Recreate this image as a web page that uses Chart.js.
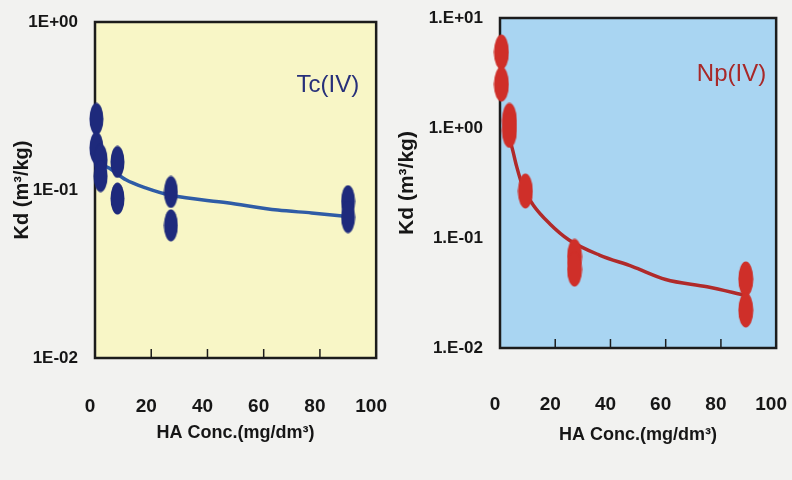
<!DOCTYPE html>
<html><head><meta charset="utf-8">
<script src="https://cdn.jsdelivr.net/npm/chart.js@4.4.0/dist/chart.umd.min.js"></script>
<style>
html,body{margin:0;padding:0;background:#f2f2f0;}
#wrap{position:relative;width:792px;height:480px;overflow:hidden;background:#f2f2f0;}
#c1{position:absolute;left:0;top:0;}
#c2{position:absolute;left:392px;top:0;}
</style></head><body>
<div id="wrap"><canvas id="c1" width="392" height="480"></canvas><canvas id="c2" width="400" height="480"></canvas></div>
<script>
// ---- data ----
const xTickValues = [0, 20, 40, 60, 80, 100];
const tcYTickLabels = ['1E-02', '1E-01', '1E+00'];
const npYTickLabels = ['1.E-02', '1.E-01', '1.E+00', '1.E+01'];

const tcX  = [0.5, 0.5, 2, 2, 8, 8, 27, 27, 90, 90];
const tcKd = [0.265, 0.178, 0.151, 0.121, 0.147, 0.089, 0.0973, 0.0616, 0.0858, 0.069];
const tcFitX  = [3, 5, 11, 18, 27, 47, 65, 77, 88];
const tcFitKd = [0.14, 0.135, 0.115, 0.103, 0.093, 0.084, 0.076, 0.073, 0.070];

const npX  = [0.5, 0.5, 3.4, 3.4, 9.2, 27, 27, 89, 89];
const npKd = [4.9, 2.5, 1.17, 0.95, 0.267, 0.068, 0.052, 0.0424, 0.0221];
const npFitX  = [2.5, 4.3, 6, 8.3, 12, 18, 25, 36, 48, 60, 75, 89];
const npFitKd = [0.9, 0.67, 0.45, 0.29, 0.2, 0.135, 0.096, 0.07, 0.055, 0.042, 0.036, 0.030];

const FONT = "'Liberation Sans', Arial, sans-serif";

function ellipse(color, w, h) {
  const c = document.createElement('canvas');
  c.width = w; c.height = h;
  const g = c.getContext('2d');
  g.fillStyle = color;
  g.beginPath();
  g.ellipse(w / 2, h / 2, w / 2 - 0.5, h / 2 - 0.5, 0, 0, Math.PI * 2);
  g.fill();
  return c;
}

const framePlugin = {
  id: 'frame',
  beforeDraw(chart, args, o) {
    const {ctx, chartArea: a} = chart;
    ctx.save();
    ctx.fillStyle = o.bg;
    ctx.fillRect(a.left, a.top, a.right - a.left, a.bottom - a.top);
    ctx.restore();
  },
  beforeDatasetsDraw(chart, args, o) {
    const {ctx, chartArea: a} = chart;
    ctx.save();
    ctx.strokeStyle = '#1c1c1c';
    ctx.lineWidth = 2.5;
    ctx.strokeRect(a.left, a.top, a.right - a.left, a.bottom - a.top);
    ctx.lineWidth = 1.5;
    const xs = chart.scales.x;
    [20, 40, 60, 80].forEach(v => {
      const px = xs.getPixelForValue(v);
      ctx.beginPath();
      ctx.moveTo(px, a.bottom);
      ctx.lineTo(px, a.bottom - 9);
      ctx.stroke();
    });
    ctx.restore();
  },
  afterDatasetsDraw(chart, args, o) {
    const {ctx, chartArea: a} = chart;
    ctx.save();
    ctx.fillStyle = o.labelColor;
    ctx.font = "24px " + FONT;
    ctx.textAlign = 'right';
    ctx.textBaseline = 'middle';
    ctx.fillText(o.label, a.right - o.labelDx, a.top + o.labelDy);
    ctx.restore();
  }
};

function makeChart(id, cfg) {
  return new Chart(document.getElementById(id), {
    type: 'scatter',
    plugins: [framePlugin],
    data: {
      datasets: [
        {
          label: cfg.name + ' data',
          data: cfg.px.map((x, i) => ({x: x, y: cfg.py[i]})),
          pointStyle: ellipse(cfg.pointColor, cfg.mw, cfg.mh),
          pointRadius: 8,
          showLine: false,
          clip: false,
          order: 0
        },
        {
          label: cfg.name + ' fit',
          data: cfg.fx.map((x, i) => ({x: x, y: cfg.fy[i]})),
          showLine: true,
          borderColor: cfg.lineColor,
          borderWidth: 3.5,
          pointRadius: 0,
          cubicInterpolationMode: 'monotone',
          order: 1
        }
      ]
    },
    options: {
      responsive: false,
      animation: false,
      layout: {padding: {top: cfg.top, right: cfg.right, left: 0, bottom: 0}},
      plugins: {
        legend: {display: false},
        tooltip: {enabled: false},
        frame: {bg: cfg.bg, label: cfg.name, labelColor: cfg.labelColor, labelDx: cfg.labelDx, labelDy: cfg.labelDy}
      },
      scales: {
        x: {
          type: 'linear', min: 0, max: 100,
          afterBuildTicks: s => { s.ticks = xTickValues.map(v => ({value: v})); },
          grid: {display: false, drawTicks: true, tickLength: cfg.xTickGap},
          border: {display: false},
          ticks: {padding: 0, labelOffset: -5, color: '#161616', font: {family: FONT, size: 19, weight: 'bold'}},
          title: {display: true, text: 'HA Conc.(mg/dm³)', color: '#161616',
                  font: {family: FONT, size: 18, weight: 'bold'}, padding: {top: 0, bottom: cfg.xTitlePad}},
          afterFit: s => { s.height = cfg.xHeight; }
        },
        y: {
          type: 'logarithmic', min: 0.01, max: cfg.ymax,
          afterBuildTicks: s => { s.ticks = cfg.ylabels.map((t, i) => ({value: Math.pow(10, i - 2)})); },
          grid: {display: false, drawTicks: true, tickLength: 17},
          border: {display: false},
          ticks: {padding: 0, color: '#161616', font: {family: FONT, size: 17, weight: 'bold'},
                  callback: (v, i) => cfg.ylabels[i]},
          title: {display: true, text: 'Kd (m³/kg)', color: '#161616',
                  font: {family: FONT, size: cfg.yTitleSize, weight: 'bold'}, padding: {top: cfg.yTitlePad, bottom: 0}},
          afterFit: s => { s.width = cfg.yWidth; }
        }
      }
    }
  });
}

makeChart('c1', {
  name: 'Tc(IV)', px: tcX, py: tcKd, fx: tcFitX, fy: tcFitKd,
  pointColor: '#1e2a7c', lineColor: '#2f5ca6', labelColor: '#27307a', bg: '#f8f6c6',
  mw: 15, mh: 33,
  labelDx: 17, labelDy: 63,
  top: 22, right: 15, yWidth: 95, xHeight: 122, xTickGap: 37, xTitlePad: 36, yTitlePad: 10, yTitleSize: 20,
  ymax: 1, ylabels: tcYTickLabels
});
makeChart('c2', {
  name: 'Np(IV)', px: npX, py: npKd, fx: npFitX, fy: npFitKd,
  pointColor: '#cf2f29', lineColor: '#b02a2a', labelColor: '#a82828', bg: '#a9d5f2',
  mw: 16, mh: 36,
  labelDx: 10, labelDy: 56,
  top: 18, right: 15, yWidth: 108, xHeight: 132, xTickGap: 45, xTitlePad: 34, yTitlePad: 3, yTitleSize: 21,
  ymax: 10, ylabels: npYTickLabels
});
</script>
</body></html>
